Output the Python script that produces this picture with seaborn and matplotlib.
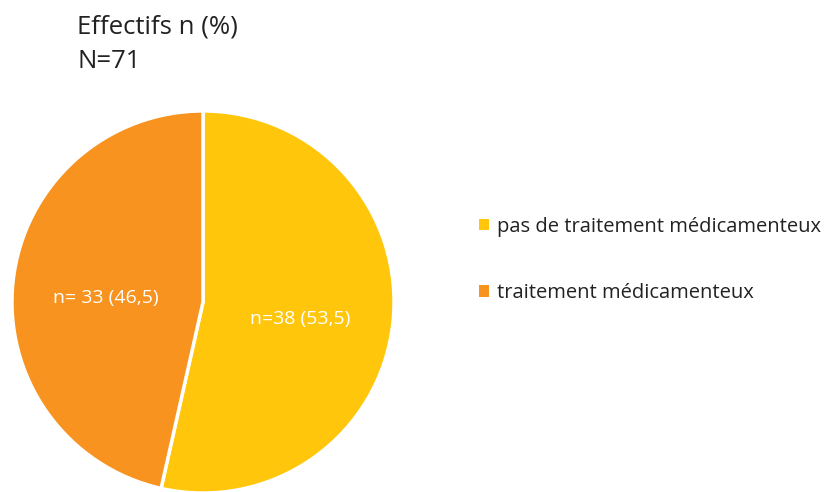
import matplotlib
matplotlib.use("Agg")
import matplotlib.pyplot as plt
import seaborn as sns
from matplotlib.patches import Patch

sns.set_style("white")
plt.rcParams['font.family'] = ['Open Sans', 'DejaVu Sans']

categories = ['pas de traitement médicamenteux', 'traitement médicamenteux']
counts = [38, 33]
percents = [53.5, 46.5]
slice_labels = ['n=38 (53,5)', 'n= 33 (46,5)']
colors = ['#FFC60B', '#F7931E']

W, H = 834, 492
fig = plt.figure(figsize=(W / 100, H / 100), dpi=100)
cx, cy, r = 203, 302, 192
ax = fig.add_axes([(cx - r) / W, (H - cy - r) / H, 2 * r / W, 2 * r / H])

wedges, texts = ax.pie(counts, labels=slice_labels, colors=colors, startangle=90,
                       counterclock=False, labeldistance=0.51, radius=1,
                       wedgeprops=dict(edgecolor='white', linewidth=2.5),
                       textprops=dict(color='white', fontsize=14, ha='center', va='center'))
# labels sit a little lower in the original
for t in texts:
    x, y = t.get_position()
    t.set_position((x, y - 0.035))

ax.set_xlim(-1.005, 1.005)
ax.set_ylim(-1.005, 1.005)
ax.set_aspect('equal')
ax.axis('off')

fig.text(77 / W, 1 - 27 / H, 'Effectifs n (%)', fontsize=18.5, color='#222222', va='center', ha='left')
fig.text(77 / W, 1 - 62 / H, 'N=71', fontsize=18.5, color='#222222', va='center', ha='left')

handles = [Patch(facecolor=c, edgecolor='none') for c in colors]
fig.legend(handles, categories, loc='center left', bbox_to_anchor=(461 / W, 1 - 260 / H),
           frameon=False, fontsize=14.5, handlelength=0.5, handleheight=0.5,
           handletextpad=0.4, labelspacing=2.3, labelcolor='#222222')

fig.savefig('out.png', dpi=100)
